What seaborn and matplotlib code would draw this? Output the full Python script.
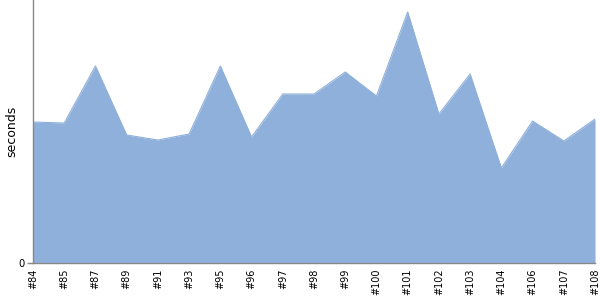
import matplotlib
matplotlib.use("Agg")
import matplotlib.pyplot as plt
import seaborn as sns
import pandas as pd

builds = ["#84", "#85", "#87", "#89", "#91", "#93", "#95", "#96", "#97", "#98",
          "#99", "#100", "#101", "#102", "#103", "#104", "#106", "#107", "#108"]
seconds = [14.1, 14.0, 19.7, 12.8, 12.3, 12.9, 19.7, 12.6, 16.9, 16.9,
           19.1, 16.7, 25.1, 14.9, 18.9, 9.5, 14.2, 12.2, 14.4]

df = pd.DataFrame({"build": builds, "seconds": seconds})
df["pos"] = range(len(df))

sns.set_theme(style="white")
plt.rcParams['font.family'] = ['DejaVu Sans']

fig = plt.figure(figsize=(6, 3), dpi=100)
ax = fig.add_axes([0.055, 0.1233, 0.9367, 0.8767])

color = "#8fb0da"
sns.lineplot(data=df, x="pos", y="seconds", ax=ax, color=color, linewidth=0.8)
ax.fill_between(df["pos"], 0, df["seconds"], color=color, linewidth=0)

ax.set_xlim(0, len(df) - 1)
ax.set_ylim(0, 26.3)
ax.set_xticks(df["pos"])
ax.set_xticklabels(builds, rotation=90, fontsize=7, color="black")
ax.set_yticks([0])
ax.set_yticklabels(["0"], fontsize=7.2, color="black")
ax.set_xlabel("")
ax.set_ylabel("seconds", fontsize=9, color="black")
ax.yaxis.set_label_coords(-0.026, 0.5)

for s in ["top", "right"]:
    ax.spines[s].set_visible(False)
for s in ["left", "bottom"]:
    ax.spines[s].set_color("#888888")
    ax.spines[s].set_linewidth(1)

ax.tick_params(axis="x", length=0, pad=4)
ax.tick_params(axis="y", length=4, width=1, color="#888888", pad=2, left=True)

fig.savefig("out.png", dpi=100)
